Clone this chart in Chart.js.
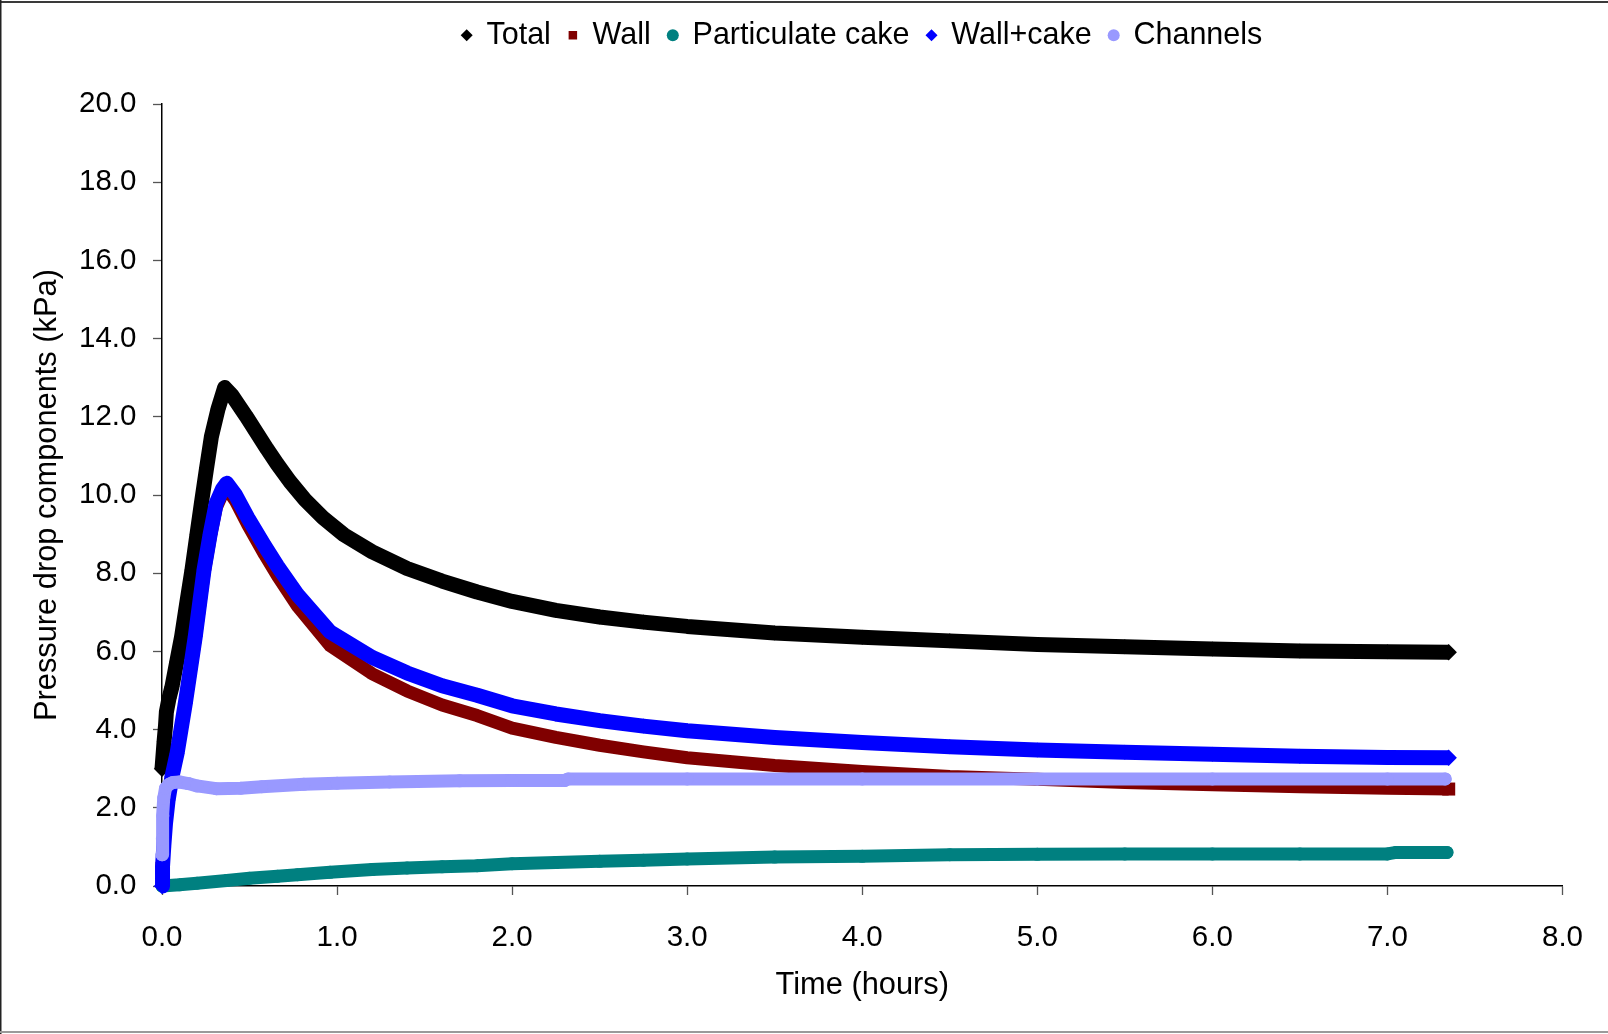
<!DOCTYPE html>
<html>
<head>
<meta charset="utf-8">
<title>Pressure drop components</title>
<script src="https://cdn.jsdelivr.net/npm/chart.js@4.4.1/dist/chart.umd.min.js"></script>
<style>
  html, body { margin: 0; padding: 0; background: #ffffff; }
  #wrap { width: 1608px; height: 1034px; position: relative; }
  canvas { display: block; }
</style>
</head>
<body>
<div id="wrap"><canvas id="chart" width="1608" height="1034"></canvas></div>
<script>
// Time axis (hours) and pressure drop (kPa) for each component
const tTotal = [0, 0.012, 0.02, 0.025, 0.04, 0.057, 0.085, 0.112, 0.14, 0.171, 0.2, 0.225, 0.255, 0.282, 0.32, 0.358, 0.4, 0.48, 0.54, 0.6, 0.657, 0.73, 0.817, 0.92, 1.04, 1.2, 1.4, 1.6, 1.8, 2.0, 2.25, 2.5, 2.75, 3.0, 3.5, 4.0, 4.5, 5.0, 5.5, 6.0, 6.5, 7.0, 7.35];
const total  = [3.0, 3.7, 4.1, 4.45, 4.8, 5.1, 5.75, 6.38, 7.2, 8.08, 9.0, 9.79, 10.7, 11.49, 12.2, 12.75, 12.55, 12.02, 11.6, 11.18, 10.8, 10.35, 9.88, 9.42, 8.98, 8.55, 8.12, 7.8, 7.52, 7.28, 7.05, 6.88, 6.75, 6.64, 6.47, 6.36, 6.27, 6.18, 6.12, 6.06, 6.01, 5.99, 5.98];

const tWall = [0, 0.003, 0.01, 0.02, 0.035, 0.057, 0.086, 0.133, 0.19, 0.24, 0.275, 0.31, 0.345, 0.37, 0.42, 0.49, 0.586, 0.66, 0.774, 0.96, 1.2, 1.4, 1.6, 1.8, 2.0, 2.25, 2.5, 2.75, 3.0, 3.5, 4.0, 4.5, 5.0, 5.5, 6.0, 6.5, 7.0, 7.35];
const wall  = [0.45, 0.5, 1.0, 1.6, 2.19, 2.78, 3.36, 4.63, 6.31, 7.99, 8.9, 9.68, 10.03, 10.17, 9.85, 9.24, 8.48, 7.93, 7.16, 6.15, 5.43, 4.99, 4.63, 4.36, 4.04, 3.8, 3.6, 3.43, 3.28, 3.08, 2.93, 2.8, 2.73, 2.65, 2.59, 2.54, 2.5, 2.48];

const tCake = [0, 0.1, 0.2, 0.37, 0.5, 0.66, 0.774, 0.96, 1.2, 1.4, 1.6, 1.8, 2.0, 2.25, 2.5, 2.75, 3.0, 3.5, 4.0, 4.5, 5.0, 5.5, 6.0, 6.5, 7.0, 7.05, 7.34];
const cake  = [0.0, 0.03, 0.07, 0.14, 0.2, 0.25, 0.29, 0.35, 0.42, 0.46, 0.49, 0.52, 0.57, 0.6, 0.63, 0.66, 0.69, 0.74, 0.76, 0.8, 0.81, 0.82, 0.82, 0.82, 0.82, 0.86, 0.86];

const tWallCake = [0, 0.003, 0.01, 0.02, 0.035, 0.057, 0.086, 0.133, 0.19, 0.24, 0.275, 0.31, 0.345, 0.37, 0.42, 0.49, 0.586, 0.66, 0.774, 0.96, 1.2, 1.4, 1.6, 1.8, 2.0, 2.25, 2.5, 2.75, 3.0, 3.5, 4.0, 4.5, 5.0, 5.5, 6.0, 6.5, 7.0, 7.35];
const wallCake  = [0.0, 0.5, 1.0, 1.6, 2.2, 2.8, 3.39, 4.67, 6.38, 8.08, 9.0, 9.79, 10.15, 10.3, 10.0, 9.42, 8.7, 8.18, 7.45, 6.5, 5.85, 5.45, 5.12, 4.88, 4.61, 4.4, 4.23, 4.09, 3.97, 3.8, 3.67, 3.56, 3.48, 3.42, 3.37, 3.32, 3.29, 3.28];

const tChannels = [0, 0.002, 0.005, 0.01, 0.02, 0.04, 0.063, 0.1, 0.15, 0.2, 0.31, 0.45, 0.57, 0.81, 1.0, 1.3, 1.7, 2.0, 2.3, 2.32, 3.0, 4.0, 5.0, 6.0, 7.0, 7.33];
const channels  = [0.8, 1.2, 1.8, 2.25, 2.5, 2.6, 2.65, 2.66, 2.62, 2.56, 2.49, 2.5, 2.54, 2.6, 2.63, 2.66, 2.69, 2.7, 2.7, 2.74, 2.74, 2.74, 2.74, 2.74, 2.74, 2.74];

const xTicks = [0, 1, 2, 3, 4, 5, 6, 7, 8];
const yTicks = [0, 2, 4, 6, 8, 10, 12, 14, 16, 18, 20];

const FONT = "'Liberation Sans', Arial, Helvetica, sans-serif";

function points(ts, vs) {
  return ts.map((t, i) => ({ x: t, y: vs[i] }));
}

// Each series is a dense run of markers: a thick stroke through the readings,
// with the marker shape kept inside the stroke and shown full size at the ends.
function series(label, ts, vs, color, style, innerRadius, endRadius, width, cap, order) {
  const last = ts.length - 1;
  const radius = (ctx) => (ctx.dataIndex === 0 || ctx.dataIndex === last) ? endRadius : innerRadius;
  return {
    label: label,
    data: points(ts, vs),
    borderColor: color,
    backgroundColor: color,
    pointBackgroundColor: color,
    pointBorderColor: color,
    pointStyle: style,
    pointRadius: radius,
    pointHoverRadius: radius,
    pointBorderWidth: 0,
    borderWidth: width,
    borderJoinStyle: 'round',
    borderCapStyle: cap,
    showLine: true,
    tension: 0,
    clip: false,
    order: order
  };
}

// White page with the thin frame along the top, left and bottom edges
const framePlugin = {
  id: 'frame',
  beforeDraw(chart) {
    const c = chart.ctx;
    c.save();
    c.fillStyle = '#ffffff';
    c.fillRect(0, 0, chart.width, chart.height);
    c.restore();
  },
  afterDraw(chart) {
    const c = chart.ctx;
    c.save();
    c.lineWidth = 2;
    c.strokeStyle = '#3a3a3a';
    c.beginPath(); c.moveTo(0, 2); c.lineTo(chart.width, 2); c.stroke();
    c.lineWidth = 1.5;
    c.strokeStyle = '#222222';
    c.beginPath(); c.moveTo(0.75, 0); c.lineTo(0.75, chart.height); c.stroke();
    c.lineWidth = 2;
    c.strokeStyle = '#9a9a9a';
    c.beginPath(); c.moveTo(0, chart.height - 2); c.lineTo(chart.width, chart.height - 2); c.stroke();
    c.restore();
  }
};

new Chart(document.getElementById('chart'), {
  type: 'scatter',
  data: {
    datasets: [
      series('Total', tTotal, total, '#000000', 'rectRot', 7.5, 8.2, 15, 'butt', 4),
      series('Wall', tWall, wall, '#800000', 'rect', 6.5, 9.2, 13, 'butt', 3),
      series('Particulate cake', tCake, cake, '#008080', 'circle', 6.5, 6.5, 13, 'round', 2),
      series('Wall+cake', tWallCake, wallCake, '#0000FF', 'rectRot', 7.5, 8.2, 15, 'butt', 1),
      series('Channels', tChannels, channels, '#9999FF', 'circle', 6.5, 6.5, 13, 'round', 0)
    ]
  },
  options: {
    responsive: false,
    animation: false,
    events: [],
    layout: { padding: { top: 2.5, left: 0, right: 44, bottom: 0 } },
    plugins: {
      tooltip: { enabled: false },
      legend: {
        display: true,
        position: 'top',
        fullSize: false,
        align: 'center',
        labels: {
          usePointStyle: true,
          boxWidth: 9,
          boxHeight: 8.5,
          padding: 17.5,
          color: '#000000',
          font: { family: FONT, size: 30.5 },
          sort: (a, b) => a.datasetIndex - b.datasetIndex
        }
      },
      title: {
        display: true,
        text: '',
        weight: 500,
        fullSize: false,
        font: { size: 10 },
        padding: { top: 0, bottom: 31.6 }
      }
    },
    scales: {
      x: {
        type: 'linear',
        position: 'bottom',
        min: 0,
        max: 8,
        afterBuildTicks: (scale) => { scale.ticks = xTicks.map(v => ({ value: v })); },
        afterFit: (scale) => { scale.height = 148; },
        ticks: {
          color: '#000000',
          padding: 25,
          maxRotation: 0,
          font: { family: FONT, size: 29.5 },
          callback: (v) => Number(v).toFixed(1)
        },
        grid: {
          display: true,
          drawOnChartArea: false,
          drawTicks: true,
          tickLength: 9,
          tickColor: '#555555',
          tickWidth: 1.3
        },
        border: { display: true, color: '#000000', width: 1.5 },
        title: {
          display: true,
          text: 'Time (hours)',
          color: '#000000',
          font: { family: FONT, size: 30.8 },
          padding: { top: 0, bottom: 30 }
        }
      },
      y: {
        type: 'linear',
        position: 'left',
        min: 0,
        max: 20,
        afterBuildTicks: (scale) => { scale.ticks = yTicks.map(v => ({ value: v })); },
        afterFit: (scale) => { scale.width = 162; },
        ticks: {
          color: '#000000',
          padding: 16.6,
          font: { family: FONT, size: 29.5 },
          callback: (v) => Number(v).toFixed(1)
        },
        grid: {
          display: true,
          drawOnChartArea: false,
          drawTicks: true,
          tickLength: 9,
          tickColor: '#555555',
          tickWidth: 1.3
        },
        border: { display: true, color: '#000000', width: 1.5 },
        title: {
          display: true,
          text: 'Pressure drop components (kPa)',
          color: '#000000',
          font: { family: FONT, size: 30.8 },
          padding: { top: 29.5, bottom: 0 }
        }
      }
    }
  },
  plugins: [framePlugin]
});
</script>
</body>
</html>
